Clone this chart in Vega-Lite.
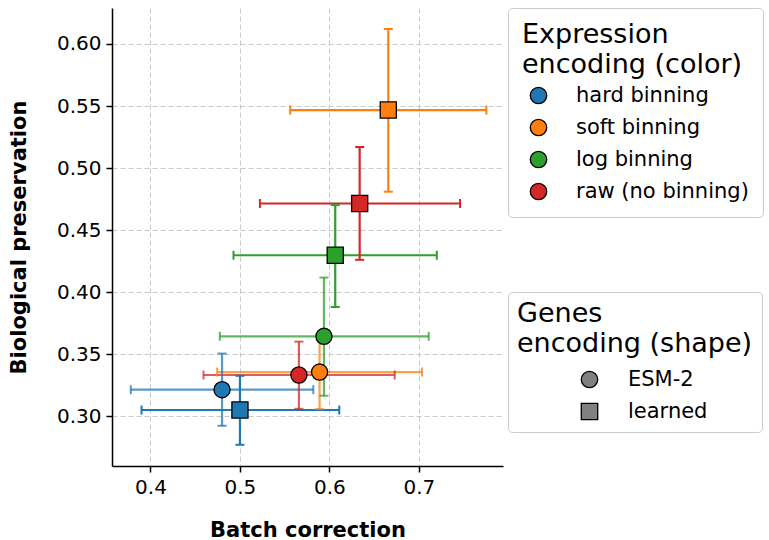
{
  "$schema": "https://vega.github.io/schema/vega-lite/v6.json",
  "width": 391,
  "height": 458,
  "autosize": "none",
  "padding": {"left": 112, "top": 8, "right": 266, "bottom": 74},
  "background": "white",
  "config": {
    "font": "DejaVu Sans",
    "view": {"stroke": null},
    "axis": {
      "labelFontSize": 20,
      "labelColor": "black",
      "titleFontSize": 21,
      "titleFontWeight": "bold",
      "titleColor": "black",
      "tickColor": "black",
      "tickSize": 6,
      "tickWidth": 1.5,
      "domainColor": "black",
      "domainWidth": 1.5,
      "grid": true,
      "gridDash": [5, 3],
      "gridColor": "#c8c8c8",
      "gridWidth": 1,
      "labelPadding": 5
    },
    "legend": {
      "titleFont": "DejaVu Sans",
      "labelFont": "DejaVu Sans",
      "titleFontWeight": "normal",
      "titleColor": "black",
      "labelColor": "black",
      "titleLimit": 400,
      "labelLimit": 400,
      "fillColor": "white",
      "strokeColor": "#cccccc",
      "cornerRadius": 4
    }
  },
  "data": {
    "values": [
      {"cond": "hard binning", "genes": "ESM-2", "x": 0.480, "xlo": 0.378, "xhi": 0.582, "y": 0.3215, "ylo": 0.2924, "yhi": 0.3506},
      {"cond": "hard binning", "genes": "learned", "x": 0.500, "xlo": 0.390, "xhi": 0.611, "y": 0.3051, "ylo": 0.2771, "yhi": 0.3327},
      {"cond": "soft binning", "genes": "ESM-2", "x": 0.589, "xlo": 0.4745, "xhi": 0.7035, "y": 0.3357, "ylo": 0.3059, "yhi": 0.3661},
      {"cond": "soft binning", "genes": "learned", "x": 0.6658, "xlo": 0.5562, "xhi": 0.7754, "y": 0.5468, "ylo": 0.481, "yhi": 0.6121},
      {"cond": "log binning", "genes": "ESM-2", "x": 0.5939, "xlo": 0.4775, "xhi": 0.711, "y": 0.3645, "ylo": 0.3166, "yhi": 0.4118},
      {"cond": "log binning", "genes": "learned", "x": 0.6065, "xlo": 0.4928, "xhi": 0.720, "y": 0.4298, "ylo": 0.3881, "yhi": 0.4702},
      {"cond": "raw (no binning)", "genes": "ESM-2", "x": 0.5659, "xlo": 0.4593, "xhi": 0.673, "y": 0.3333, "ylo": 0.3061, "yhi": 0.3602},
      {"cond": "raw (no binning)", "genes": "learned", "x": 0.6338, "xlo": 0.5223, "xhi": 0.746, "y": 0.4715, "ylo": 0.4261, "yhi": 0.517}
    ]
  },
  "layer": [
    {
      "mark": {"type": "rule", "strokeWidth": 2.2},
      "encoding": {
        "x": {"field": "xlo", "type": "quantitative"},
        "x2": {"field": "xhi"},
        "y": {"field": "y", "type": "quantitative"},
        "color": {"field": "cond", "type": "nominal", "scale": {"domain": ["raw (no binning)", "log binning", "soft binning", "hard binning"], "range": ["#d62728", "#2ca02c", "#ff7f0e", "#1f77b4"]}, "legend": null},
        "opacity": {"condition": {"test": "datum.genes === 'ESM-2'", "value": 0.75}, "value": 1}
      }
    },
    {
      "mark": {"type": "rule", "strokeWidth": 2.2},
      "encoding": {
        "x": {"field": "x", "type": "quantitative"},
        "y": {"field": "ylo", "type": "quantitative"},
        "y2": {"field": "yhi"},
        "color": {"field": "cond", "type": "nominal", "scale": {"domain": ["raw (no binning)", "log binning", "soft binning", "hard binning"], "range": ["#d62728", "#2ca02c", "#ff7f0e", "#1f77b4"]}, "legend": null},
        "opacity": {"condition": {"test": "datum.genes === 'ESM-2'", "value": 0.75}, "value": 1}
      }
    },
    {
      "mark": {"type": "tick", "orient": "vertical", "size": 9, "thickness": 2},
      "encoding": {
        "x": {"field": "xlo", "type": "quantitative"},
        "y": {"field": "y", "type": "quantitative"},
        "color": {"field": "cond", "type": "nominal", "scale": {"domain": ["raw (no binning)", "log binning", "soft binning", "hard binning"], "range": ["#d62728", "#2ca02c", "#ff7f0e", "#1f77b4"]}, "legend": null},
        "opacity": {"condition": {"test": "datum.genes === 'ESM-2'", "value": 0.75}, "value": 1}
      }
    },
    {
      "mark": {"type": "tick", "orient": "vertical", "size": 9, "thickness": 2},
      "encoding": {
        "x": {"field": "xhi", "type": "quantitative"},
        "y": {"field": "y", "type": "quantitative"},
        "color": {"field": "cond", "type": "nominal", "scale": {"domain": ["raw (no binning)", "log binning", "soft binning", "hard binning"], "range": ["#d62728", "#2ca02c", "#ff7f0e", "#1f77b4"]}, "legend": null},
        "opacity": {"condition": {"test": "datum.genes === 'ESM-2'", "value": 0.75}, "value": 1}
      }
    },
    {
      "mark": {"type": "tick", "orient": "horizontal", "size": 9, "thickness": 2},
      "encoding": {
        "x": {"field": "x", "type": "quantitative"},
        "y": {"field": "ylo", "type": "quantitative"},
        "color": {"field": "cond", "type": "nominal", "scale": {"domain": ["raw (no binning)", "log binning", "soft binning", "hard binning"], "range": ["#d62728", "#2ca02c", "#ff7f0e", "#1f77b4"]}, "legend": null},
        "opacity": {"condition": {"test": "datum.genes === 'ESM-2'", "value": 0.75}, "value": 1}
      }
    },
    {
      "mark": {"type": "tick", "orient": "horizontal", "size": 9, "thickness": 2},
      "encoding": {
        "x": {"field": "x", "type": "quantitative"},
        "y": {"field": "yhi", "type": "quantitative"},
        "color": {"field": "cond", "type": "nominal", "scale": {"domain": ["raw (no binning)", "log binning", "soft binning", "hard binning"], "range": ["#d62728", "#2ca02c", "#ff7f0e", "#1f77b4"]}, "legend": null},
        "opacity": {"condition": {"test": "datum.genes === 'ESM-2'", "value": 0.75}, "value": 1}
      }
    },
    {
      "mark": {"type": "point", "filled": true, "opacity": 1, "stroke": "black", "strokeWidth": 1.3, "size": 260},
      "encoding": {
        "x": {
          "field": "x", "type": "quantitative",
          "scale": {"domain": [0.357, 0.794], "nice": false, "zero": false},
          "axis": {"title": "Batch correction", "values": [0.4, 0.5, 0.6, 0.7], "format": ".1f", "titlePadding": 22}
        },
        "y": {
          "field": "y", "type": "quantitative",
          "scale": {"domain": [0.260, 0.629], "nice": false, "zero": false},
          "axis": {"title": "Biological preservation", "values": [0.30, 0.35, 0.40, 0.45, 0.50, 0.55, 0.60], "format": ".2f", "titlePadding": 27}
        },
        "fill": {
          "field": "cond",
          "type": "nominal",
          "scale": {
            "domain": ["hard binning", "soft binning", "log binning", "raw (no binning)"],
            "range": ["#1f77b4", "#ff7f0e", "#2ca02c", "#d62728"]
          },
          "legend": {
            "title": ["Expression", "encoding (color)"],
            "orient": "none",
            "legendX": 396,
            "legendY": 0,
            "padding": 14,
            "titleFontSize": 27,
            "titleLineHeight": 30,
            "titlePadding": 6,
            "labelFontSize": 21,
            "symbolType": "circle",
            "symbolSize": 270,
            "symbolOpacity": 1,
            "symbolStrokeColor": "black",
            "symbolStrokeWidth": 1.3,
            "symbolOffset": 6,
            "labelOffset": 27,
            "rowPadding": 9
          }
        },
        "shape": {
          "field": "genes",
          "type": "nominal",
          "scale": {"domain": ["ESM-2", "learned"], "range": ["circle", "square"]},
          "legend": {
            "title": ["Genes", "encoding (shape)"],
            "orient": "none",
            "legendX": 396,
            "legendY": 284,
            "padding": 9,
            "titleFontSize": 27,
            "titleLineHeight": 30,
            "titlePadding": 11,
            "labelFontSize": 21,
            "symbolSize": 270,
            "symbolOpacity": 1,
            "symbolFillColor": "#808080",
            "symbolStrokeColor": "black",
            "symbolStrokeWidth": 1.3,
            "symbolOffset": 62,
            "labelOffset": 28,
            "rowPadding": 9,
            "encode": {"symbols": {"update": {"fill": {"value": "#808080"}, "stroke": {"value": "black"}, "strokeWidth": {"value": 1.3}, "opacity": {"value": 1}}}}
          }
        }
      }
    }
  ]
}
